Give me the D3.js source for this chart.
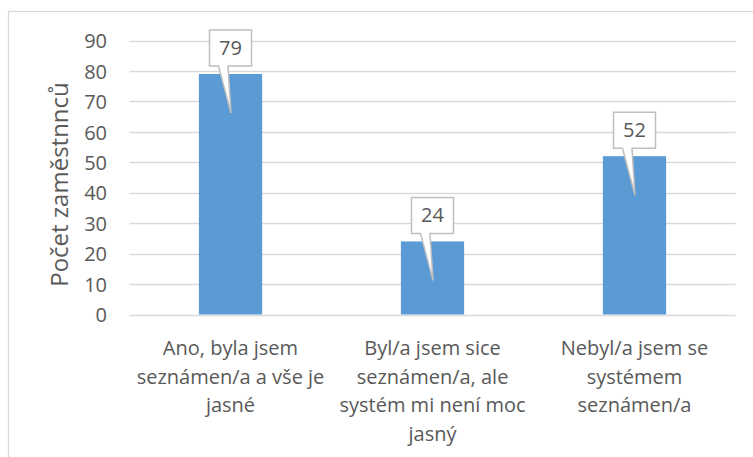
<!DOCTYPE html>
<html>
<head>
<meta charset="utf-8">
<script src="https://cdn.jsdelivr.net/npm/d3@7"></script>
<style>
  html, body { margin: 0; padding: 0; background: #fff; }
  svg { display: block; }
  text { font-family: "Open Sans", "Noto Sans", sans-serif; fill: #595959; }
</style>
</head>
<body>
<svg id="chart" width="753" height="457"></svg>
<script>
const categories = [
  ["Ano, byla jsem", "seznámen/a a vše je", "jasné"],
  ["Byl/a jsem sice", "seznámen/a, ale", "systém mi není moc", "jasný"],
  ["Nebyl/a jsem se", "systémem", "seznámen/a"]
];
const values = [79, 24, 52];
const yTicks = [0, 10, 20, 30, 40, 50, 60, 70, 80, 90];
const yTitle = "Počet zaměstnnců";

(function () {
const svg = d3.select("#chart");

svg.append("rect").attr("x", 8.5).attr("y", 11.5).attr("width", 800).attr("height", 500)
  .attr("fill", "#fff").attr("stroke", "#d9d9d9").attr("stroke-width", 1.3);

const pL = 129.5, pR = 735.5, pT = 40.5, pB = 314.5;
const idx = values.map((d, i) => i);
const x = d3.scaleBand().domain(idx).range([pL, pR]).paddingInner(0.687).paddingOuter(0.3435);
const y = d3.scaleLinear().domain([0, 90]).range([pB, pT]);

// gridlines
svg.append("g").selectAll("line").data(yTicks).join("line")
  .attr("x1", pL).attr("x2", pR)
  .attr("y1", d => Math.round(y(d)) + 0.5).attr("y2", d => Math.round(y(d)) + 0.5)
  .attr("stroke", "#d9d9d9").attr("stroke-width", 1.4);

// y axis labels via d3 axis
const yAxis = d3.axisLeft(y).tickValues(yTicks).tickSize(0).tickPadding(0);
const yg = svg.append("g").attr("transform", `translate(${107},0)`).call(yAxis);
yg.select(".domain").remove();
yg.selectAll("text").style("font-size", "20px").style("font-family", "'Open Sans', sans-serif")
  .attr("fill", "#595959").attr("dy", "0.36em");

// axis title
svg.append("text")
  .attr("transform", `translate(68,${(pT + pB) / 2 + 7}) rotate(-90)`)
  .attr("text-anchor", "middle")
  .style("font-size", "24px")
  .text(yTitle);

// bars
svg.append("g").selectAll("rect").data(values).join("rect")
  .attr("x", (d, i) => x(i)).attr("width", x.bandwidth())
  .attr("y", d => y(d)).attr("height", d => pB - y(d))
  .attr("fill", "#5b9bd5");

// category labels
const xl = svg.append("g");
categories.forEach((lines, i) => {
  const t = xl.append("text").attr("text-anchor", "middle").style("font-size", "20px");
  lines.forEach((ln, j) => {
    t.append("tspan").attr("x", x(i) + x.bandwidth() / 2).attr("y", 355 + j * 28.5).text(ln);
  });
});

// callouts
const bw = 42, bh = 36;
const cg = svg.append("g");
values.forEach((v, i) => {
  const cx = x(i) + x.bandwidth() / 2;
  const barTop = y(v);
  const by2 = barTop - 8, by1 = by2 - bh;
  const bx1 = cx - bw / 2, bx2 = cx + bw / 2;
  const tipY = barTop + 39;
  const p = [
    [bx1, by1], [bx2, by1], [bx2, by2], [cx - 2.5, by2], [cx + 0.5, tipY], [cx - 12, by2], [bx1, by2]
  ];
  cg.append("path").attr("d", "M" + p.map(q => q.join(",")).join("L") + "Z")
    .attr("fill", "#fff").attr("stroke", "#bfbfbf").attr("stroke-width", 1.5)
    .attr("stroke-linejoin", "miter");
  cg.append("text").attr("x", cx).attr("y", (by1 + by2) / 2 + 7)
    .attr("text-anchor", "middle").style("font-size", "20px").text(v);
});
})();
</script>
</body>
</html>
